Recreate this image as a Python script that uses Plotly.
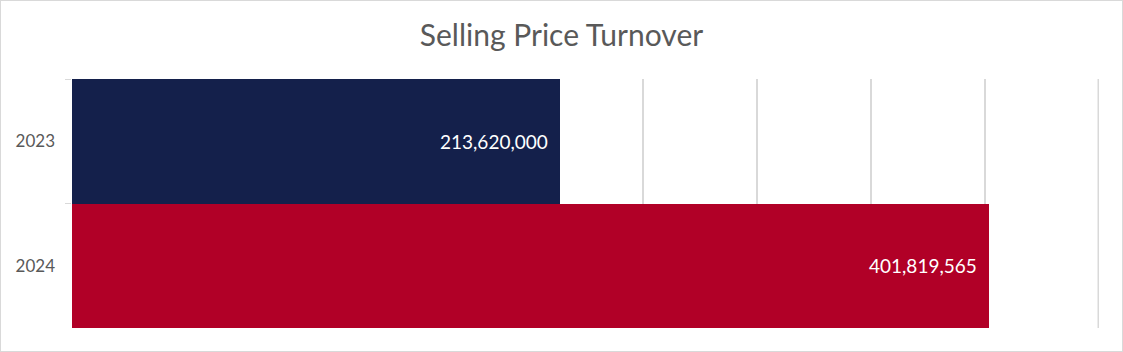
import plotly.graph_objects as go

years = ["2023", "2024"]
turnover = [213620000, 401819565]
bar_colors = ["#14204B", "#B10027"]
x_max = 450000000
x_step = 50000000

fig = go.Figure()
fig.add_trace(go.Bar(
    x=turnover, y=years, orientation="h",
    marker=dict(color=bar_colors, line=dict(width=0)),
    hoverinfo="skip",
))

for i, val in enumerate(turnover):
    fig.add_annotation(
        x=val, y=i, xref="x", yref="y",
        text=f"{val:,}", showarrow=False,
        xanchor="right", yanchor="middle", xshift=-10,
        font=dict(family="Lato, Open Sans, sans-serif", size=19, color="white"),
    )

fig.update_layout(
    width=1123, height=352,
    margin=dict(l=72, r=24, t=79, b=24),
    paper_bgcolor="white", plot_bgcolor="white",
    bargap=0,
    showlegend=False,
    title=dict(
        text="Selling Price Turnover",
        x=0.5, xanchor="center", y=0.9, yanchor="middle",
        font=dict(family="Lato, Open Sans, sans-serif", size=30, color="#595959"),
    ),
    xaxis=dict(
        range=[0, x_max], dtick=x_step, tick0=0,
        showgrid=True, gridcolor="#D9D9D9", gridwidth=1.5,
        showticklabels=False, zeroline=False, showline=False, ticks="",
    ),
    yaxis=dict(
        type="category",
        categoryorder="array", categoryarray=years,
        range=[len(years) - 0.5, -0.5], autorange=False,
        tickson="boundaries", ticks="outside", ticklen=6, tickcolor="#D9D9D9", tickwidth=1,
        showline=False, showgrid=False, zeroline=False,
        tickfont=dict(family="Lato, Open Sans, sans-serif", size=17, color="#595959"),
        ticklabelstandoff=16,
    ),
    shapes=[
        dict(
            type="rect", xref="paper", yref="paper",
            x0=-72/1027, x1=1+24/1027, y0=-24/249, y1=1+79/249,
            line=dict(color="#D9D9D9", width=2), fillcolor="rgba(0,0,0,0)", layer="below",
        ),
        dict(
            type="line", xref="x", yref="paper",
            x0=x_max, x1=x_max, y0=0, y1=1,
            line=dict(color="#D9D9D9", width=3), layer="below",
        ),
    ],
)

fig.write_html("out.html")
